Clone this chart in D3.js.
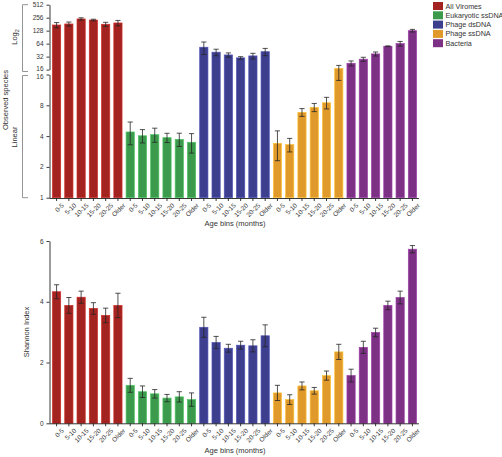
<!DOCTYPE html>
<html><head><meta charset="utf-8">
<script src="https://cdn.jsdelivr.net/npm/d3@7"></script>
<style>
body{margin:0;background:#fff;}
svg{display:block;font-family:"Liberation Sans",Arial,sans-serif;}
</style></head>
<body><svg id="c" width="502" height="457"></svg>
<script>
const categories = ["0-5","5-10","10-15","15-20","20-25","Older"];
const groups = ["All Viromes","Eukaryotic ssDNA","Phage dsDNA","Phage ssDNA","Bacteria"];
const colors = ["#a2231f","#3c9a4c","#3d3f8e","#e0992b","#7c3184"];

// Observed species (mean, SEM)
const obsAllViromes = [173,183,239,226,180,193];
const obsAllViromesErr = [24,20,15,10,20,28];
const obsEukaryotic = [4.39,4.03,4.13,3.86,3.72,3.48];
const obsEukaryoticErr = [1.1,0.6,0.65,0.4,0.55,0.75];
const obsPhageDs = [52.8,40.5,35,29.9,33.2,41.6];
const obsPhageDsErr = [17,7,4,2,5,8];
const obsPhageSs = [3.4,3.3,6.83,7.64,8.47,17];
const obsPhageSsErr = [1.1,0.5,0.6,0.7,1.1,3];
const obsBacteria = [22.4,27.9,37,55.7,64,128];
const obsBacteriaErr = [3,3,4,1,8,9];

// Shannon index (mean, SEM)
const shAllViromes = [4.33,3.88,4.15,3.78,3.55,3.88];
const shAllViromesErr = [0.23,0.26,0.2,0.19,0.24,0.4];
const shEukaryotic = [1.25,1.04,0.97,0.83,0.87,0.78];
const shEukaryoticErr = [0.23,0.19,0.14,0.12,0.17,0.22];
const shPhageDs = [3.16,2.66,2.47,2.57,2.55,2.88];
const shPhageDsErr = [0.33,0.2,0.13,0.13,0.2,0.36];
const shPhageSs = [1.0,0.78,1.23,1.07,1.57,2.35];
const shPhageSsErr = [0.25,0.16,0.13,0.11,0.15,0.25];
const shBacteria = [1.57,2.5,2.99,3.88,4.14,5.73];
const shBacteriaErr = [0.21,0.2,0.14,0.14,0.21,0.12];

const logTicksUpper = [16,32,64,128,256,512];
const logTicksLower = [1,2,4,8,16];
const shannonTicks = [0,2,4,6];

const obsMeans = [obsAllViromes,obsEukaryotic,obsPhageDs,obsPhageSs,obsBacteria];
const obsErrs = [obsAllViromesErr,obsEukaryoticErr,obsPhageDsErr,obsPhageSsErr,obsBacteriaErr];
const shMeans = [shAllViromes,shEukaryotic,shPhageDs,shPhageSs,shBacteria];
const shErrs = [shAllViromesErr,shEukaryoticErr,shPhageDsErr,shPhageSsErr,shBacteriaErr];

const rows = [];
groups.forEach((g,gi)=>categories.forEach((c,ci)=>rows.push({
  key:gi+"|"+c, g:gi, cat:c,
  obs:obsMeans[gi][ci], obsE:obsErrs[gi][ci],
  sh:shMeans[gi][ci], shE:shErrs[gi][ci]})));

const svg = d3.select("#c");
const fs = 6.5;
const txtCol = "#333333";
const x = d3.scaleBand().domain(rows.map(d=>d.key)).range([51,418]).paddingInner(0.33).paddingOuter(0.12);

// ---------- TOP chart ----------
const yU = d3.scaleLog().base(2).domain([16,512]).range([69.6,4.7]);
const yL = d3.scaleLog().base(2).domain([1,16]).range([197.7,74.5]);
const yTop = v => v >= 16 ? yU(v) : yL(v);
const topG = svg.append("g");

topG.append("g").selectAll("rect").data(rows).join("rect")
  .attr("x",d=>x(d.key)).attr("width",x.bandwidth())
  .attr("y",d=>yTop(d.obs)).attr("height",d=>yL(1)-yTop(d.obs))
  .attr("fill",d=>colors[d.g]).attr("stroke",d=>d3.color(colors[d.g]).brighter(0.7)).attr("stroke-width",0.7);

function errBars(g, data, val, err, yf){
  const cw = 2.6;
  const eb = g.append("g").attr("stroke","#262626").attr("stroke-width",0.8).attr("fill","none");
  data.forEach(d=>{
    const cx = x(d.key)+x.bandwidth()/2;
    const y1 = yf(val(d)+err(d)), y0 = yf(Math.max(val(d)-err(d),1e-6));
    eb.append("line").attr("x1",cx).attr("x2",cx).attr("y1",y1).attr("y2",y0);
    eb.append("line").attr("x1",cx-cw).attr("x2",cx+cw).attr("y1",y1).attr("y2",y1);
    eb.append("line").attr("x1",cx-cw).attr("x2",cx+cw).attr("y1",y0).attr("y2",y0);
  });
}
errBars(topG, rows, d=>d.obs, d=>d.obsE, yTop);

function styleAxis(g){
  g.selectAll(".domain").attr("stroke","#222").attr("stroke-width",0.9);
  g.selectAll(".tick line").attr("stroke","#222").attr("stroke-width",0.9);
  g.selectAll(".tick text").attr("fill",txtCol).attr("font-size",fs).attr("font-family","Liberation Sans, Arial, sans-serif");
}
const axU = topG.append("g").attr("transform","translate(49.5,0)")
  .call(d3.axisLeft(yU).tickValues(logTicksUpper).tickFormat(d3.format("d")).tickSize(3).tickPadding(3).tickSizeOuter(0));
styleAxis(axU);
axU.selectAll(".tick text").filter(d=>d===16).attr("dy","0.1em");
const axL = topG.append("g").attr("transform","translate(49.5,0)")
  .call(d3.axisLeft(yL).tickValues(logTicksLower).tickFormat(d3.format("d")).tickSize(3).tickPadding(3).tickSizeOuter(0));
styleAxis(axL);
axL.selectAll(".tick text").filter(d=>d===16).attr("dy","0.62em");

function xAxis(g, yPos){
  const ax = g.append("g").attr("transform",`translate(0,${yPos})`)
    .call(d3.axisBottom(x).tickFormat(k=>k.split("|")[1]).tickSize(3).tickSizeOuter(0));
  styleAxis(ax);
  ax.select(".domain").attr("d",`M49.5,0.5H419`);
  ax.selectAll(".tick text").attr("text-anchor","end")
    .attr("transform","translate(2,2) rotate(-45)").attr("dy","0.35em").attr("dx","0");
  return ax;
}
xAxis(topG, 198);

topG.append("text").attr("x",235).attr("y",226).attr("text-anchor","middle")
  .attr("font-size",7.5).attr("fill",txtCol).text("Age bins (months)");

// y labels and brackets
topG.append("text").attr("transform","translate(8,100) rotate(-90)").attr("text-anchor","middle")
  .attr("font-size",7.5).attr("fill",txtCol).text("Observed species");
const lg = topG.append("text").attr("transform","translate(16.5,37) rotate(-90)").attr("text-anchor","middle")
  .attr("font-size",7.5).attr("fill",txtCol);
lg.append("tspan").text("Log");
lg.append("tspan").attr("font-size",5.5).attr("dy",2.5).text("2");
topG.append("text").attr("transform","translate(16.5,137) rotate(-90)").attr("text-anchor","middle")
  .attr("font-size",7.5).attr("fill",txtCol).text("Linear");
const br = topG.append("g").attr("stroke","#888").attr("stroke-width",0.9).attr("fill","none");
br.append("path").attr("d","M28,4.7H22.5V71.5H28");
br.append("path").attr("d","M28,75.5H22.5V197.7H28");

// Legend
const leg = svg.append("g");
groups.forEach((g,i)=>{
  const yy = 6 + i*9.3;
  leg.append("rect").attr("x",433).attr("y",yy-4).attr("width",10).attr("height",8).attr("fill",colors[i]);
  leg.append("text").attr("x",445.5).attr("y",yy).attr("dy","0.35em").attr("font-size",7.2).attr("fill",txtCol).text(g);
});

// ---------- BOTTOM chart ----------
const yS = d3.scaleLinear().domain([0,6]).range([423.3,241]);
const bot = svg.append("g");
bot.append("g").selectAll("rect").data(rows).join("rect")
  .attr("x",d=>x(d.key)).attr("width",x.bandwidth())
  .attr("y",d=>yS(d.sh)).attr("height",d=>yS(0)-yS(d.sh))
  .attr("fill",d=>colors[d.g]).attr("stroke",d=>d3.color(colors[d.g]).brighter(0.7)).attr("stroke-width",0.7);
errBars(bot, rows, d=>d.sh, d=>d.shE, yS);
const axS = bot.append("g").attr("transform","translate(49.5,0)")
  .call(d3.axisLeft(yS).tickValues(shannonTicks).tickFormat(d3.format("d")).tickSize(3).tickPadding(3).tickSizeOuter(0));
styleAxis(axS);
xAxis(bot, 423.3);
bot.append("text").attr("x",235).attr("y",453).attr("text-anchor","middle")
  .attr("font-size",7.5).attr("fill",txtCol).text("Age bins (months)");
bot.append("text").attr("transform","translate(29,332) rotate(-90)").attr("text-anchor","middle")
  .attr("font-size",7.5).attr("fill",txtCol).text("Shannon Index");
</script></body></html>
